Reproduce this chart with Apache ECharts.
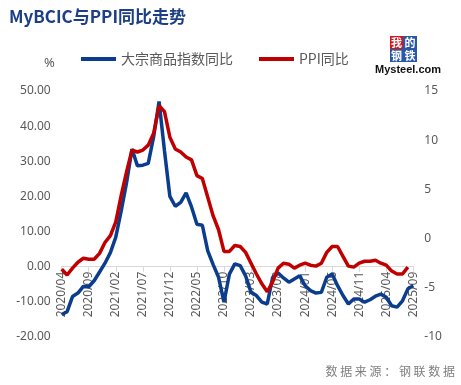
<!DOCTYPE html>
<html><head><meta charset="utf-8">
<script src="https://cdn.jsdelivr.net/npm/echarts@6/dist/echarts.min.js"></script>
<style>html,body{margin:0;padding:0;background:#fff}#c{width:461px;height:385px}</style>
</head><body><div id="c"></div>
<script>
const categories = [
'2020/04','2020/05','2020/06','2020/07','2020/08','2020/09','2020/10','2020/11','2020/12',
'2021/01','2021/02','2021/03','2021/04','2021/05','2021/06','2021/07','2021/08','2021/09','2021/10','2021/11','2021/12',
'2022/01','2022/02','2022/03','2022/04','2022/05','2022/06','2022/07','2022/08','2022/09','2022/10','2022/11','2022/12',
'2023/01','2023/02','2023/03','2023/04','2023/05','2023/06','2023/07','2023/08','2023/09','2023/10','2023/11','2023/12',
'2024/01','2024/02','2024/03','2024/04','2024/05','2024/06','2024/07','2024/08','2024/09','2024/10','2024/11','2024/12',
'2025/01','2025/02','2025/03','2025/04','2025/05','2025/06','2025/07','2025/08','2025/09'];
const bcicYoY = [
-13.6,-12.8,-8.5,-7.5,-5.6,-5.7,-4.0,-1.5,1.0,
4.0,8.4,15.9,24.0,33.5,28.7,28.9,29.4,37.0,47.0,33.0,20.0,
17.2,18.3,21.0,17.0,12.1,11.8,4.5,0.6,-3.0,-10.1,-2.1,0.8,
0.3,-2.6,-7.3,-8.2,-10.1,-10.6,-3.0,-1.8,-3.2,-4.4,-3.5,-2.6,
-5.4,-6.8,-7.5,-7.3,-3.0,-2.1,-5.4,-8.2,-10.6,-9.2,-9.2,-10.1,
-9.4,-8.4,-7.8,-8.7,-11.1,-11.5,-9.7,-6.3,-5.4];
const ppiYoY = [
-3.1,-3.7,-3.0,-2.4,-2.0,-2.1,-2.1,-1.5,-0.4,
0.3,1.7,4.4,6.8,9.0,8.8,9.0,9.5,10.7,13.5,12.9,10.3,
9.1,8.8,8.3,8.0,6.4,6.1,4.2,2.3,0.9,-1.3,-1.3,-0.7,
-0.8,-1.4,-2.5,-3.6,-4.6,-5.4,-4.4,-3.0,-2.5,-2.6,-3.0,-2.7,
-2.5,-2.7,-2.8,-2.5,-1.4,-0.8,-0.8,-1.8,-2.8,-2.9,-2.5,-2.3,
-2.3,-2.2,-2.5,-2.7,-3.3,-3.6,-3.6,-2.9,null];
const seriesNames = ['大宗商品指数同比','PPI同比'];
const leftTicks = {min:-20,max:50,interval:10};
const rightTicks = {min:-10,max:15,interval:5};

const gridTop = 91, gridBottom = 48, chartH = 385;
const plotH = chartH - gridTop - gridBottom;
const zeroOffset = -plotH * (0 - leftTicks.min) / (leftTicks.max - leftTicks.min);

const chart = echarts.init(document.getElementById('c'));
const gray = '#595959';
chart.setOption({
  backgroundColor:'#ffffff',
  animation:false,
  title:{text:'MyBCIC与PPI同比走势',left:4,top:3,textStyle:{fontFamily:'Noto Sans CJK SC',fontWeight:'bold',fontSize:17,color:'#1d3f86'}},
  legend:{left:76,top:47,itemWidth:35,itemHeight:4,itemGap:26,icon:'rect',
    textStyle:{color:gray,fontSize:14,fontFamily:'Noto Sans CJK SC'},data:seriesNames},
  grid:{left:61.7,right:47.7,top:gridTop,bottom:gridBottom,containLabel:false,outerBoundsMode:'none'},
  xAxis:{type:'category',data:categories,boundaryGap:false,offset:zeroOffset,
    axisLine:{onZero:false,lineStyle:{color:'#d9d9d9',width:1}},
    axisTick:{show:true,interval:4,length:5,lineStyle:{color:'#d9d9d9'}},
    axisLabel:{interval:4,rotate:90,color:gray,fontSize:12,fontFamily:'Noto Sans',margin:5},
    splitLine:{show:false}},
  yAxis:[
    {type:'value',min:leftTicks.min,max:leftTicks.max,interval:leftTicks.interval,
     axisLine:{show:false},axisTick:{show:false},splitLine:{show:false},
     axisLabel:{color:gray,fontSize:12,fontFamily:'Noto Sans',margin:11,formatter:v=>v.toFixed(2)}},
    {type:'value',min:rightTicks.min,max:rightTicks.max,interval:rightTicks.interval,
     axisLine:{show:false},axisTick:{show:false},splitLine:{show:false},
     axisLabel:{color:gray,fontSize:12,fontFamily:'Noto Sans',margin:11}}
  ],
  series:[
    {name:seriesNames[0],type:'line',yAxisIndex:0,data:bcicYoY,showSymbol:false,symbol:'none',
     lineStyle:{color:'#0b3d8f',width:3.5},itemStyle:{color:'#0b3d8f'}},
    {name:seriesNames[1],type:'line',yAxisIndex:1,data:ppiYoY,showSymbol:false,symbol:'none',
     lineStyle:{color:'#c00000',width:3.5},itemStyle:{color:'#c00000'}}
  ],
  graphic:[
    {type:'text',left:44,top:57,style:{text:'%',fill:gray,fontSize:13,fontFamily:'Noto Sans'}},
    {type:'rect',shape:{x:390,y:36,width:13,height:13},style:{fill:'#d4151c'}},
    {type:'rect',shape:{x:403,y:36,width:14,height:13},style:{fill:'#2a58a8'}},
    {type:'rect',shape:{x:390,y:49,width:13,height:13},style:{fill:'#2a58a8'}},
    {type:'rect',shape:{x:403,y:49,width:14,height:13},style:{fill:'#2a58a8'}},
    {type:'text',x:396.5,y:42.5,style:{text:'我',fill:'#fff',fontSize:11,fontWeight:'bold',align:'center',verticalAlign:'middle',fontFamily:'Noto Sans CJK SC'}},
    {type:'text',x:410,y:42.5,style:{text:'的',fill:'#fff',fontSize:11,fontWeight:'bold',align:'center',verticalAlign:'middle',fontFamily:'Noto Sans CJK SC'}},
    {type:'text',x:396.5,y:55.5,style:{text:'钢',fill:'#fff',fontSize:11,fontWeight:'bold',align:'center',verticalAlign:'middle',fontFamily:'Noto Sans CJK SC'}},
    {type:'text',x:410,y:55.5,style:{text:'铁',fill:'#fff',fontSize:11,fontWeight:'bold',align:'center',verticalAlign:'middle',fontFamily:'Noto Sans CJK SC'}},
    {type:'text',x:408,y:70,style:{text:'Mysteel.com',fill:'#111',fontSize:11,fontWeight:'bold',align:'center',verticalAlign:'middle',fontFamily:'Liberation Sans'}},
    {type:'text',x:455,y:371,style:{text:'数 据 来 源 ： 钢 联 数 据',fill:'#7f7f7f',fontSize:12,align:'right',verticalAlign:'middle',fontFamily:'Noto Sans CJK SC'}}
  ]
});
</script></body></html>
